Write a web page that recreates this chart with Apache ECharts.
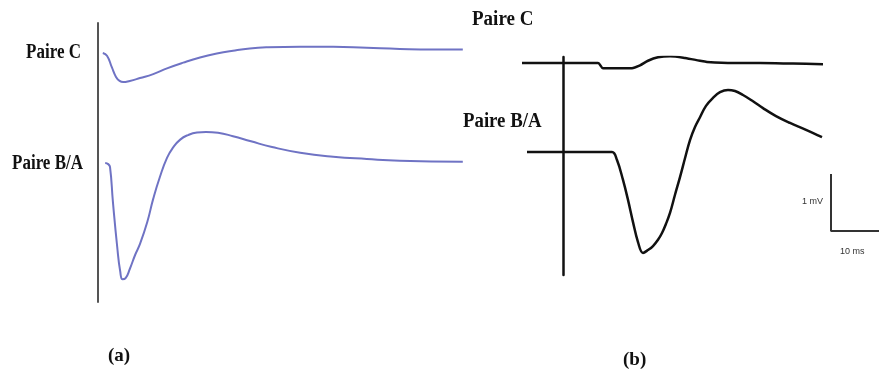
<!DOCTYPE html>
<html>
<head>
<meta charset="utf-8">
<script src="https://cdn.jsdelivr.net/npm/echarts@6/dist/echarts.min.js"></script>
<style>html,body{margin:0;padding:0;background:#fff}#c{width:879px;height:374px}</style>
</head>
<body>
<div id="c"></div>
<script>
// ---- Panel (a): simulated traces (time in ms, potential in mV relative to trace baseline)
const aC_t  = [0.8,1.5,2.3,3.0,3.6,4.2,5.3,7,9.2,11.5,14.2,17,19.8,22.5,25.3,28.2,33.7,39.2,44.8,50.3,55.8,60.8];
const aC_v  = [0,-0.05,-0.25,-0.42,-0.49,-0.51,-0.49,-0.44,-0.37,-0.27,-0.17,-0.08,-0.01,0.04,0.08,0.10,0.11,0.11,0.09,0.07,0.06,0.06];
const aBA_t = [1.2,1.7,2.0,2.5,3.2,3.7,4.1,4.6,5.3,6.2,7,8.2,9.2,10.3,11.5,12.5,13.7,15.0,16.5,18.0,20.0,22.5,25.5,29,33.7,39.2,44.8,50.3,60.8];
const aBA_v = [0,-0.02,-0.07,-0.70,-1.47,-1.90,-2.04,-2.02,-1.86,-1.61,-1.42,-1.04,-0.63,-0.25,0.09,0.27,0.41,0.49,0.535,0.545,0.53,0.47,0.38,0.28,0.18,0.11,0.07,0.04,0.02];

// ---- Panel (b): recorded traces
const bC_t  = [-8.2,-4,0,4,7,8,10,13.8,15.4,17,19,21.4,24.4,27.4,28.8,34,39.4,46,52];
const bC_v  = [0,0,0,0,0,-0.09,-0.09,-0.09,-0.04,0.04,0.10,0.12,0.09,0.04,0.02,0,0,-0.01,-0.02];
const bBA_t = [-7.2,0,6.4,9.8,10.8,12,13,14,15,16,17,18,19,19.8,20.6,21.4,22.4,23.4,24.4,25.4,26.4,27.4,28.6,30,31.4,33,34.4,36,38,40,42.6,45.4,48.6,51.8];
const bBA_v = [0,0,0,0,-0.14,-0.49,-0.84,-1.23,-1.58,-1.77,-1.72,-1.65,-1.54,-1.42,-1.26,-1.07,-0.75,-0.44,-0.11,0.21,0.44,0.61,0.81,0.95,1.05,1.09,1.07,1.00,0.89,0.77,0.63,0.51,0.39,0.26];

// scale bar
const scaleMs = 10, scaleMv = 1;

// display offsets of the upper traces (mV)
const offA = 1.93, offB = 1.561;
const barT = 53.6, barV = -1.386;

const zip = (t, v, off) => t.map((x, i) => [x, v[i] + (off || 0)]);

const chart = echarts.init(document.getElementById('c'), null, {renderer: 'canvas'});
const lab = (text, x, y, opt) => Object.assign({
  type: 'text', x: x, y: y,
  style: Object.assign({text: text, fill: '#111', font: 'bold 20px "Liberation Serif", "Times New Roman", serif',
    textVerticalAlign: 'middle', textAlign: 'left'}, opt && opt.style)
}, opt && opt.el);

chart.setOption({
  animation: false,
  backgroundColor: '#fff',
  grid: [
    {left: 98, top: 23, width: 372, height: 279},
    {left: 518, top: 57, width: 361, height: 218}
  ],
  xAxis: [
    {gridIndex: 0, type: 'value', min: 0, max: 62, show: false},
    {gridIndex: 1, type: 'value', min: -9, max: 63.2, show: false}
  ],
  yAxis: [
    {gridIndex: 0, type: 'value', min: -2.439, max: 2.456,
     axisLine: {show: true, lineStyle: {color: '#555', width: 2}},
     axisTick: {show: false}, axisLabel: {show: false}, splitLine: {show: false}},
    {gridIndex: 1, type: 'value', min: -2.158, max: 1.667,
     axisLine: {show: true, onZero: true, lineStyle: {color: '#111', width: 2.5}},
     axisTick: {show: false}, axisLabel: {show: false}, splitLine: {show: false}}
  ],
  series: [
    {type: 'line', xAxisIndex: 0, yAxisIndex: 0, data: zip(aC_t, aC_v, offA), smooth: 0.5, showSymbol: false,
     lineStyle: {color: '#6f73c4', width: 2}},
    {type: 'line', xAxisIndex: 0, yAxisIndex: 0, data: zip(aBA_t, aBA_v), smooth: 0.5, showSymbol: false,
     lineStyle: {color: '#6f73c4', width: 2}},
    {type: 'line', xAxisIndex: 1, yAxisIndex: 1, data: zip(bC_t, bC_v, offB), smooth: 0.3, showSymbol: false,
     lineStyle: {color: '#111', width: 2.5}},
    {type: 'line', xAxisIndex: 1, yAxisIndex: 1, data: zip(bBA_t, bBA_v), smooth: 0.4, showSymbol: false,
     lineStyle: {color: '#111', width: 2.5}},
    {type: 'line', xAxisIndex: 1, yAxisIndex: 1, clip: false, showSymbol: false,
     data: [[barT, barV + scaleMv], [barT, barV], [barT + scaleMs, barV]],
     lineStyle: {color: '#333', width: 2}}
  ],
  graphic: [
    lab('Paire C', 81, 53, {style: {textAlign: 'right'}, el: {scaleX: 0.85}}),
    lab('Paire B/A', 83, 164, {style: {textAlign: 'right'}, el: {scaleX: 0.85}}),
    lab('Paire C', 472, 20, {el: {scaleX: 0.95}}),
    lab('Paire B/A', 463, 122, {el: {scaleX: 0.94}}),
    lab('(a)', 108, 356, {style: {font: 'bold 19px "Liberation Serif", serif'}}),
    lab('(b)', 623, 360, {style: {font: 'bold 19px "Liberation Serif", serif'}}),
    lab('1 mV', 823, 202, {style: {textAlign: 'right', fill: '#333', font: '9px "Liberation Sans", Arial, sans-serif'}}),
    lab('10 ms', 840, 252, {style: {fill: '#333', font: '9px "Liberation Sans", Arial, sans-serif'}})
  ]
});
</script>
</body>
</html>
